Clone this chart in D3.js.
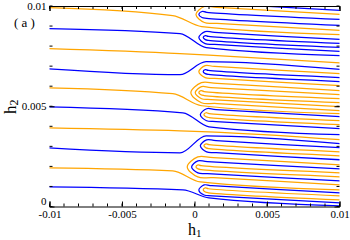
<!DOCTYPE html>
<html>
<head>
<meta charset="utf-8">
<script src="https://cdn.jsdelivr.net/npm/d3@7"></script>
<style>
  body { margin: 0; background: #fff; }
  svg { display: block; }
  text { font-family: "Liberation Serif", "DejaVu Serif", serif; fill: #000; }
</style>
</head>
<body>
<svg id="chart" width="350" height="240"></svg>
<script>
// axis ticks
const xTicks = [-0.01, -0.005, 0, 0.005, 0.01];
const xTickLabels = ["-0.01", "-0.005", "0", "0.005", "0.01"];
const yTicks = [0, 0.005, 0.01];
const yTickLabels = ["0", "0.005", "0.01"];

// lines coming in from the left (h1 = -0.01), bending near h1 = 0
const leftColor = ["o", "b", "o", "b", "o", "b", "o", "b", "o", "b"];
const leftY = [0.009925, 0.008875, 0.007875, 0.006875, 0.005925, 0.004975, 0.003925, 0.002925, 0.001925, 0.000975];
const preX  = [-0.0015, -0.001, -0.001, -0.001, -0.0015, -0.0008, -0.001, -0.001, -0.0015, -0.0008];
const preY  = [0.009525, 0.008625, 0.007625, 0.006575, 0.005625, 0.004675, 0.003775, 0.002675, 0.001775, 0.000825];
const postX = [0.0005, 0.0008, 0.001, 0.0008, 0.0005, 0.001, 0.001, 0.0008, 0.0004, 0.001];
const postY = [0.008975, 0.007925, 0.00755, 0.007225, 0.005025, 0.003975, 0.003725, 0.003525, 0.001225, 0.000425];

// hairpins opening to the right (tip h1, upper arm h2, lower arm h2)
const hpColor = ["b", "o", "o", "b", "b", "b", "o",
                 "b", "o", "o", "o", "b", "o", "b", "o",
                 "o", "b", "o", "b", "o"];
const hpTip   = [0.0003, 0.0006, 0.0001, 0.0003, 0.0003, 0.0006, 0.0003,
                 0.0006, -0.00025, 0.00005, 0.0003, 0.0004, 0.00065, 0.0004, 0.00065,
                 -0.0005, -0.0002, 0.0001, 0.0003, 0.0006];
const hpUpper = [0.010775, 0.010575, 0.009975, 0.009725, 0.008725, 0.008525, 0.007025,
                 0.006825, 0.006175, 0.005975, 0.005775, 0.004875, 0.004675, 0.003325, 0.003125,
                 0.002475, 0.002275, 0.002075, 0.001075, 0.000925];
const hpLower = [0.010175, 0.010375, 0.009175, 0.009425, 0.008125, 0.008325, 0.006425,
                 0.006625, 0.005175, 0.005375, 0.005575, 0.004275, 0.004475, 0.002725, 0.002925,
                 0.001475, 0.001675, 0.001875, 0.000575, 0.000725];

// all right-hand branches sink by about this much between h1 ~ 0 and 0.01
const armDrop = 0.0004;

const colors = { b: "#0000ff", o: "#ffa500" };

const svg = d3.select("#chart");
const margin = { left: 49.5, right: 10.5, top: 6, bottom: 33.5 };
const W = 350, H = 240;

const x = d3.scaleLinear().domain([-0.01, 0.01]).range([margin.left, W - margin.right]);
const y = d3.scaleLinear().domain([0, 0.01]).range([H - margin.bottom, margin.top]);

svg.append("clipPath").attr("id", "clip")
    .append("rect")
    .attr("x", x(-0.01)).attr("y", y(0.01))
    .attr("width", x(0.01) - x(-0.01)).attr("height", y(0) - y(0.01));

const plot = svg.append("g").attr("clip-path", "url(#clip)");

const smooth = d3.line().x(d => x(d[0])).y(d => y(d[1])).curve(d3.curveMonotoneX);
const bend = d3.line().x(d => x(d[0])).y(d => y(d[1])).curve(d3.curveCatmullRom.alpha(0.5));

// hairpins
hpTip.forEach((tip, i) => {
    const up = hpUpper[i], lo = hpLower[i];
    const r = (up - lo) / 2 * 1.45; // round turn, in h1 units (aspect of the plot)
    const pts = [
        [0.0102, up - armDrop],
        [tip + r * 2.5, up - armDrop * 0.1],
        [tip + r, up],
        [tip, (up + lo) / 2],
        [tip + r, lo],
        [tip + r * 2.5, lo - armDrop * 0.1],
        [0.0102, lo - armDrop]
    ];
    plot.append("path")
        .attr("d", bend(pts))
        .attr("fill", "none")
        .attr("stroke", colors[hpColor[i]])
        .attr("stroke-width", 1.25);
});

// lines from the left
leftY.forEach((y0, i) => {
    const pts = [
        [-0.0102, y0],
        [preX[i], preY[i]],
        [postX[i], postY[i]],
        [0.0102, postY[i] - armDrop]
    ];
    plot.append("path")
        .attr("d", smooth(pts))
        .attr("fill", "none")
        .attr("stroke", colors[leftColor[i]])
        .attr("stroke-width", 1.25);
});

// axes: frame top and bottom, ticks pointing inwards
const minor = d3.range(-0.01, 0.01001, 0.001);
const minorY = d3.range(0, 0.01001, 0.001);

const axBottom = svg.append("g").attr("transform", `translate(0,${y(0)})`)
    .call(d3.axisBottom(x).tickValues(xTicks).tickFormat((d, i) => xTickLabels[i]).tickSize(-5).tickPadding(3.5));
const axTop = svg.append("g").attr("transform", `translate(0,${y(0.01)})`)
    .call(d3.axisTop(x).tickValues(xTicks).tickFormat("").tickSize(-5));
const axLeft = svg.append("g").attr("transform", `translate(${x(-0.01)},0)`)
    .call(d3.axisLeft(y).tickValues(yTicks).tickFormat((d, i) => yTickLabels[i]).tickSize(-5).tickPadding(3));
const axRight = svg.append("g").attr("transform", `translate(${x(0.01)},0)`)
    .call(d3.axisRight(y).tickValues(yTicks).tickFormat("").tickSize(-5));

[axBottom, axTop].forEach(g => {
    g.selectAll(".minor").data(minor).join("line")
        .attr("class", "minor")
        .attr("x1", d => x(d)).attr("x2", d => x(d))
        .attr("y1", 0).attr("y2", g === axBottom ? -3 : 3)
        .attr("stroke", "#000");
});
[axLeft, axRight].forEach(g => {
    g.selectAll(".minor").data(minorY).join("line")
        .attr("class", "minor")
        .attr("y1", d => y(d)).attr("y2", d => y(d))
        .attr("x1", 0).attr("x2", g === axLeft ? 3 : -3)
        .attr("stroke", "#000");
});
[axLeft, axRight].forEach(g => g.select(".domain").remove());

svg.selectAll(".tick text")
    .style("font-family", '"Liberation Serif", serif')
    .style("font-size", "11px")
    .attr("fill", "#000");
// the "0" of h2 sits just above the "-0.01" of h1
axLeft.selectAll(".tick text").filter(d => d === 0).attr("dy", "-0.15em");
svg.selectAll(".domain").attr("stroke", "#000").attr("stroke-width", 1);

// axis titles
const xl = svg.append("text").attr("x", 188).attr("y", 234.5).style("font-size", "16px");
xl.append("tspan").text("h");
xl.append("tspan").attr("dy", 2).style("font-size", "11px").text("1");

const yl = svg.append("text")
    .attr("transform", "translate(16,114) rotate(-90)")
    .style("font-size", "17px");
yl.append("tspan").text("h");
yl.append("tspan").attr("dy", 2).style("font-size", "12px").text("2");

svg.append("text").attr("x", 14).attr("y", 27).style("font-size", "13px").text("( a )");
</script>
</body>
</html>
